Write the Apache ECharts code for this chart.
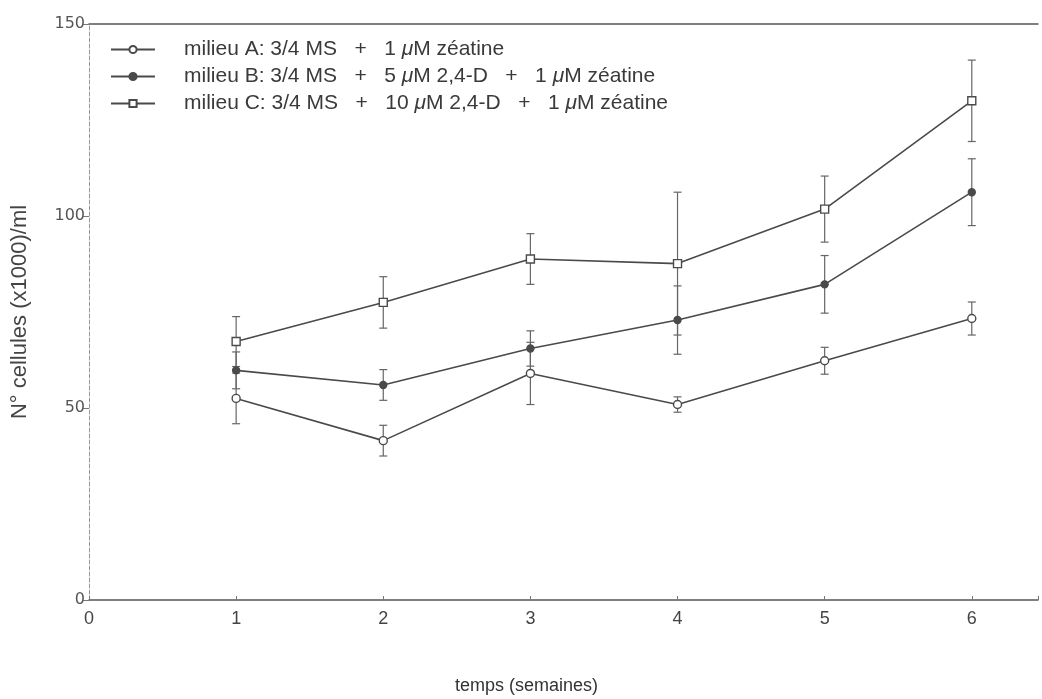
<!DOCTYPE html>
<html>
<head>
<meta charset="utf-8">
<script src="https://cdn.jsdelivr.net/npm/echarts@6/dist/echarts.min.js"></script>
<style>
  html, body { margin: 0; padding: 0; background: #fff; }
  #chart { width: 1042px; height: 699px; }
</style>
</head>
<body>
<div id="chart"></div>
<script>
// weeks
var weeks = [1, 2, 3, 4, 5, 6];

// milieu A / B / C means (x1000 cells/ml) and error bar half-widths
var milieuA = [52.5, 41.5, 59.0, 50.9, 62.3, 73.3];
var errA = [6.6, 4.0, 8.1, 2.0, 3.5, 4.3];
var milieuB = [59.8, 56.0, 65.5, 72.9, 82.2, 106.2];
var errB = [4.8, 4.0, 4.6, 8.9, 7.5, 8.7];
var milieuC = [67.3, 77.5, 88.8, 87.6, 101.8, 130.0];
var errC = [6.5, 6.7, 6.6, 18.6, 8.6, 10.6];

var names = [
    'milieu A: 3/4 MS   +   1 {i|μ}M zéatine',
    'milieu B: 3/4 MS   +   5 {i|μ}M 2,4-D   +   1 {i|μ}M zéatine',
    'milieu C: 3/4 MS   +   10 {i|μ}M 2,4-D   +   1 {i|μ}M zéatine'
];
var legendKeys = ['A', 'B', 'C'];

var ink = '#4a4a4a';

function pairs(vals) {
    return weeks.map(function (w, i) { return [w, vals[i]]; });
}

function errData(vals, errs) {
    return weeks.map(function (w, i) { return [w, vals[i] - errs[i], vals[i] + errs[i]]; });
}

function renderErr(params, api) {
    var lo = api.coord([api.value(0), api.value(1)]);
    var hi = api.coord([api.value(0), api.value(2)]);
    var cap = 4;
    var st = { stroke: '#666', lineWidth: 1.2 };
    return {
        type: 'group',
        children: [
            { type: 'line', shape: { x1: lo[0], y1: lo[1], x2: hi[0], y2: hi[1] }, style: st },
            { type: 'line', shape: { x1: lo[0] - cap, y1: lo[1], x2: lo[0] + cap, y2: lo[1] }, style: st },
            { type: 'line', shape: { x1: hi[0] - cap, y1: hi[1], x2: hi[0] + cap, y2: hi[1] }, style: st }
        ]
    };
}

function lineSeries(key, vals, symbol, size, fill) {
    return {
        name: key,
        type: 'line',
        data: pairs(vals),
        symbol: symbol,
        symbolSize: size,
        showAllSymbol: true,
        z: 5,
        lineStyle: { color: ink, width: 1.6 },
        itemStyle: { color: fill, borderColor: ink, borderWidth: 1.4 },
        emphasis: { disabled: true },
        animation: false
    };
}

function errSeries(vals, errs) {
    return {
        type: 'custom',
        renderItem: renderErr,
        data: errData(vals, errs),
        encode: { x: 0, y: [1, 2] },
        z: 3,
        silent: true,
        animation: false
    };
}

var dom = document.getElementById('chart');
var chart = echarts.init(dom, null, { renderer: 'canvas' });

var option = {
    backgroundColor: '#fff',
    animation: false,
    grid: { left: 89, right: 4, top: 24, bottom: 99, containLabel: false, outerBoundsMode: 'none' },
    legend: {
        orient: 'vertical',
        left: 105,
        top: 34,
        itemGap: 6,
        itemWidth: 44,
        itemHeight: 9,
        data: legendKeys,
        formatter: function (n) { return names[legendKeys.indexOf(n)]; },
        textStyle: {
            fontFamily: 'Liberation Sans',
            fontSize: 21,
            color: '#3a3a3a',
            padding: [0, 0, 0, 24],
            rich: {
                i: { fontFamily: 'Liberation Sans', fontStyle: 'italic', fontSize: 21, color: '#3a3a3a' }
            }
        }
    },
    xAxis: [{
        type: 'value',
        min: 0,
        max: 6.45,
        interval: 1,
        axisLine: { show: true, lineStyle: { color: '#555', width: 1.5 } },
        axisTick: { show: true, inside: true, length: 4, lineStyle: { color: '#777' } },
        splitLine: { show: false },
        axisLabel: {
            margin: 10,
            fontFamily: 'Liberation Sans Narrow, Liberation Sans',
            fontSize: 18,
            color: '#444',
            formatter: function (v) { return Math.abs(v - Math.round(v)) < 1e-6 ? String(Math.round(v)) : ''; }
        }
    }, {
        type: 'value',
        position: 'top',
        min: 0,
        max: 6.45,
        interval: 1,
        axisLine: { show: true, onZero: false, lineStyle: { color: '#555', width: 1.5 } },
        axisTick: { show: false },
        axisLabel: { show: false },
        splitLine: { show: false }
    }],
    yAxis: {
        type: 'value',
        min: 0,
        max: 150,
        interval: 50,
        name: 'N° cellules (x1000)/ml',
        nameLocation: 'middle',
        nameGap: 58,
        nameTextStyle: { fontFamily: 'Liberation Sans', fontSize: 22, color: '#444' },
        axisLine: { show: true, lineStyle: { color: '#999', width: 1, type: [4, 2] } },
        axisTick: { show: true, length: 6, lineStyle: { color: '#777' } },
        splitLine: { show: false },
        axisLabel: {
            margin: 4,
            fontFamily: 'DejaVu Sans',
            fontSize: 16,
            color: '#555'
        }
    },
    graphic: [{
        type: 'text',
        left: 455,
        top: 677,
        style: {
            text: 'temps (semaines)',
            fontFamily: 'Liberation Sans',
            fontSize: 18,
            fill: '#333'
        }
    }],
    series: [
        errSeries(milieuA, errA),
        errSeries(milieuB, errB),
        errSeries(milieuC, errC),
        lineSeries('A', milieuA, 'circle', 8, '#fff'),
        lineSeries('B', milieuB, 'circle', 7, ink),
        lineSeries('C', milieuC, 'rect', 8, '#fff')
    ]
};

chart.setOption(option);
</script>
</body>
</html>
